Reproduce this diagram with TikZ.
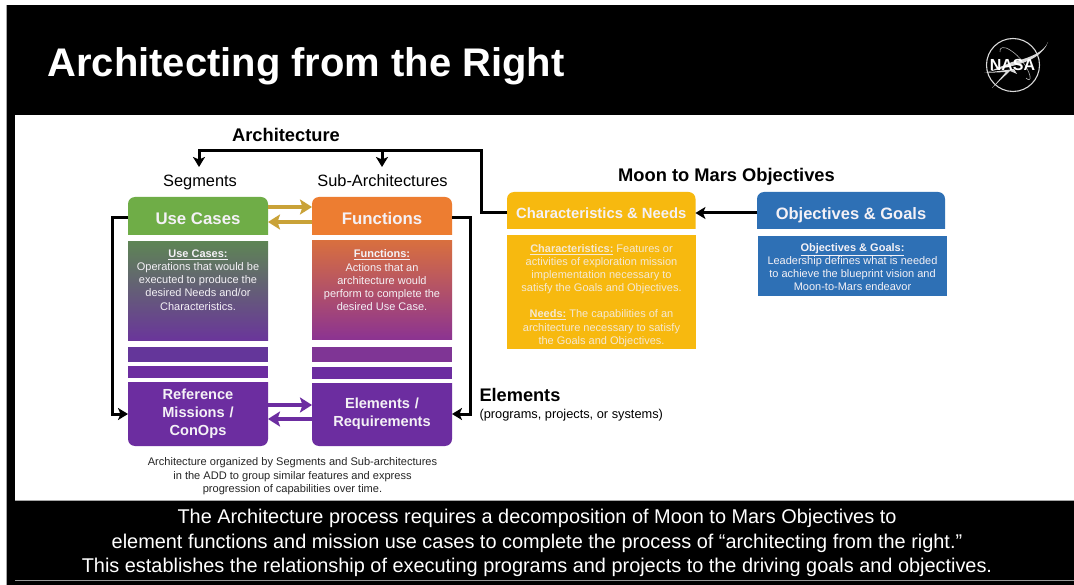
\documentclass[tikz,border=0pt]{standalone}
\usepackage{fontspec}
\setmainfont{Liberation Sans}
\usetikzlibrary{arrows.meta}
\definecolor{ugreen}{HTML}{6FAD47}
\definecolor{forange}{HTML}{ED7D31}
\definecolor{cyellow}{HTML}{F7B90F}
\definecolor{oblue}{HTML}{2E70B5}
\definecolor{mpurple}{HTML}{6C2DA0}
\definecolor{goldar}{HTML}{C9A238}
\definecolor{softw}{HTML}{F4F1F6}
\definecolor{uctop}{HTML}{5E8455}
\definecolor{ucbot}{HTML}{6A359B}
\definecolor{ftop}{HTML}{D86F3F}
\definecolor{fbot}{HTML}{8B3392}
\definecolor{ucstripc}{HTML}{64369A}
\definecolor{fstripc}{HTML}{7F3595}
\newcommand{\midt}[2]{\smash{\raisebox{-#1}{#2}}}
\tikzset{
  lbl/.style={inner sep=0pt,outer sep=0pt,align=center,text=softw},
  head/.style={lbl,font=\fontsize{16.8}{20}\selectfont\bfseries},
  headm/.style={lbl,font=\fontsize{14.6}{18}\selectfont\bfseries},
  boxtext/.style={lbl,font=\fontsize{11}{13.1}\selectfont},
  shadebox/.style={inner sep=0pt,outer sep=0pt,draw=none,anchor=north west},
  blacktxt/.style={inner sep=0pt,outer sep=0pt,align=center,text=black},
  conn/.style={line width=3pt,draw=black},
  connar/.style={conn,-{Stealth[length=10pt,width=12pt,inset=2.5pt]}},
  goldarrow/.style={line width=4pt,draw=goldar,-{Stealth[length=12pt,width=15pt,inset=2.5pt]}},
  purparrow/.style={line width=4pt,draw=mpurple,-{Stealth[length=12pt,width=15pt,inset=2.5pt]}},
}
\begin{document}
\begin{tikzpicture}[x=1pt,y=-1pt]
\useasboundingbox (0,0) rectangle (1074,585);
\fill[white] (0,0) rectangle (1074,585);
\fill[black] (7,5) rectangle (1074,585);
\draw[gray!70,line width=0.8pt] (6.5,5) -- (6.5,585);
\fill[white] (15,115) rectangle (1074,500);
\draw[gray!70,line width=0.8pt] (15,500) -- (1074,500);
\draw[gray!80,line width=0.8pt] (15,580) -- (1074,580);

% title
\node[lbl,anchor=base west,text=white,font=\fontsize{39.95}{44}\selectfont\bfseries] (title) at (47.5,76.8) {Architecting from the Right};

% NASA logo
\draw[white!85!black,line width=1.1pt] (1013,65) circle (26.5);
\draw[white!70!black,line width=0.6pt] (1000,52) .. controls (999,47) and (1004,46) .. (1010,50) .. controls (1020,56) and (1028,68) .. (1030,76) .. controls (1031,81) and (1028,80) .. (1026,78);
\fill[white!85!black] (1048,42) .. controls (1044,52) and (1030,58) .. (1012,62) -- (988,72) -- (1012,66) .. controls (1030,62) and (1044,54) .. (1048,42) -- cycle;
\fill[white!85!black] (984,73) -- (1014,69) -- (1017,74) -- (1010,71) -- (992,88) -- (1006,72) -- cycle;
\node[lbl,text=white,font=\fontsize{16}{18}\selectfont\bfseries] (nasa) at (1012.5,65) {NASA};

% box backgrounds
\fill[ugreen] (128,235) [rounded corners=7pt] -- (128,197) -- (268,197) [sharp corners] -- (268,235) -- cycle;
\fill[forange] (312,235) [rounded corners=7pt] -- (312,197) -- (452,197) [sharp corners] -- (452,235) -- cycle;
\fill[cyellow] (507,229) [rounded corners=7pt] -- (507,192) -- (695.5,192) [sharp corners] -- (695.5,229) -- cycle;
\fill[oblue] (757,229) [rounded corners=7pt] -- (757,192) -- (945,192) [sharp corners] -- (945,229) -- cycle;
\fill[mpurple] (128,382) [rounded corners=7pt] -- (128,446) -- (268,446) [sharp corners] -- (268,382) -- cycle;
\fill[mpurple] (312,383) [rounded corners=7pt] -- (312,446) -- (452,446) [sharp corners] -- (452,383) -- cycle;

% header nodes
\node[head,minimum width=140pt,minimum height=34pt] (usecases) at (198,218) {\midt{7pt}{Use Cases}};
\node[head,minimum width=140pt,minimum height=34pt] (functions) at (382,218) {\midt{7pt}{Functions}};
\node[lbl,font=\fontsize{14.8}{16}\selectfont\bfseries,minimum width=188.5pt,minimum height=37pt] (charneeds) at (601.2,213) {\midt{6pt}{Characteristics \& Needs}};
\node[lbl,font=\fontsize{16.5}{20}\selectfont\bfseries,minimum width=188pt,minimum height=37pt] (objgoals) at (851,213) {\midt{7pt}{Objectives \& Goals}};
\node[headm,text width=140pt,minimum height=64pt] (refm) at (198,414) {Reference\\Missions /\\ConOps};
\node[headm,text width=140pt,minimum height=63pt] (elem) at (382,414) {Elements /\\Requirements};

% body boxes
\node[shadebox,minimum width=140pt,minimum height=99pt,top color=uctop,bottom color=ucbot] (ucbody) at (128,242) {};
\node[shadebox,minimum width=140pt,minimum height=99pt,top color=ftop,bottom color=fbot] (fbody) at (312,241) {};
\node[shadebox,minimum width=140pt,minimum height=15pt,fill=ucstripc] (ucstrip) at (128,347) {};
\node[shadebox,minimum width=140pt,minimum height=12pt,fill=mpurple] (ucstripb) at (128,366) {};
\node[shadebox,minimum width=140pt,minimum height=15pt,fill=fstripc] (fstrip) at (312,347) {};
\node[shadebox,minimum width=140pt,minimum height=12pt,fill=mpurple] (fstripb) at (312,367) {};
\node[shadebox,minimum width=188.5pt,minimum height=114pt,fill=cyellow] (charbody) at (507,235) {};
\node[shadebox,minimum width=189pt,minimum height=60pt,fill=oblue] (objbody) at (758,236) {};

% body texts
\node[boxtext,anchor=north] (uctext) at (198,250) {\textbf{\underline{Use Cases:}}\\Operations that would be\\executed to produce the\\desired Needs and/or\\Characteristics.};
\node[boxtext,anchor=north] (ftext) at (382,250) {\textbf{\underline{Functions:}}\\Actions that an\\architecture would\\perform to complete the\\desired Use Case.};
\node[boxtext,anchor=north,text=softw!85!cyellow] (chartext) at (601.5,244.5) {\textbf{\underline{Characteristics:}} Features or\\activities of exploration mission\\implementation necessary to\\satisfy the Goals and Objectives.\\[13.1pt]\textbf{\underline{Needs:}} The capabilities of an\\architecture necessary to satisfy\\the Goals and Objectives.};
\node[boxtext,anchor=north] (objtext) at (852.5,243.5) {\textbf{\underline{Objectives \& Goals:}}\\Leadership defines what is needed\\to achieve the blueprint vision and\\Moon-to-Mars endeavor};

% black labels
\node[blacktxt,font=\fontsize{18.3}{20}\selectfont\bfseries,anchor=base] (archlbl) at (286,142) {Architecture};
\node[blacktxt,font=\fontsize{16.4}{17}\selectfont,anchor=base] (segments) at (200,187) {Segments};
\node[blacktxt,font=\fontsize{16.4}{17}\selectfont,anchor=base] (subarch) at (382.5,187) {Sub-Architectures};
\node[blacktxt,font=\fontsize{18.3}{20}\selectfont\bfseries,anchor=base] (moonlbl) at (726.5,181.5) {Moon to Mars Objectives};
\node[blacktxt,font=\fontsize{18.2}{20}\selectfont\bfseries,anchor=base west] (elemlbl) at (479.5,402) {Elements};
\node[blacktxt,font=\fontsize{12.8}{15}\selectfont,anchor=base west] (elemsub) at (479.5,418.5) {(programs, projects, or systems)};
\node[blacktxt,font=\fontsize{11.05}{13.4}\selectfont,text=black!85] (caption) at (292.5,476.5) {Architecture organized by Segments and Sub-architectures\\in the ADD to group similar features and express\\progression of capabilities over time.};

% footer
\node[lbl,text=white,font=\fontsize{19.9}{24.5}\selectfont] (footer) at (537,543) {The Architecture process requires a decomposition of Moon to Mars Objectives to\\element functions and mission use cases to complete the process of “architecting from the right.”\\This establishes the relationship of executing programs and projects to the driving goals and objectives.};

% connectors
\coordinate (topright) at (481,151);
\coordinate (topleft) at (199,151);
\coordinate (segtip) at (199,167);
\coordinate (subtop) at (382,151);
\coordinate (subtip) at (382,167);
\coordinate (leftbus) at (112,300);
\coordinate (rightbus) at (470,300);
\draw[connar] (charneeds.west) -| (topright) -- (topleft) -- (segtip);
\draw[connar] (subtop) -- (subtip);
\draw[connar] (objgoals.west) -- (charneeds.east);
\draw[connar] (usecases.west) -| (leftbus) |- (refm.west);
\draw[connar] (functions.east) -| (rightbus) |- (elem.east);
\draw[goldarrow] ([yshift=11pt]usecases.east) -- ([yshift=11pt]functions.west);
\draw[goldarrow] ([yshift=-4pt]functions.west) -- ([yshift=-4pt]usecases.east);
\draw[purparrow] ([yshift=9pt]refm.east) -- ([yshift=9pt]elem.west);
\draw[purparrow] ([yshift=-5pt]elem.west) -- ([yshift=-5pt]refm.east);
\end{tikzpicture}
\end{document}
